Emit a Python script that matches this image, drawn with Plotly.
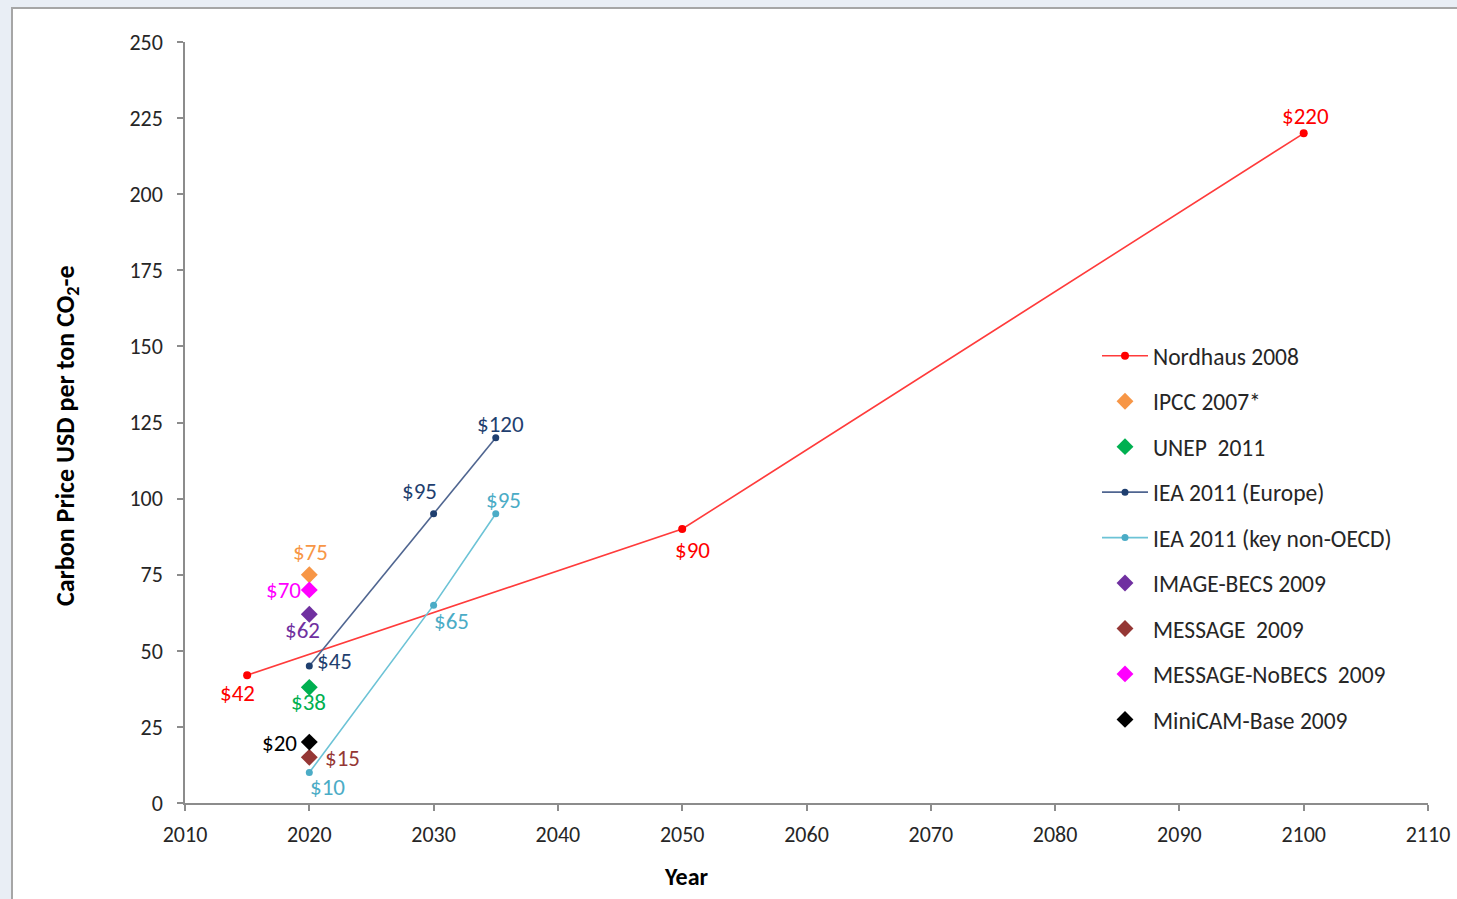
import plotly.graph_objects as go

# Carbon price projections (USD per ton CO2-e)
nordhaus_years = [2015, 2050, 2100]
nordhaus_price = [42, 90, 220]

iea_eu_years = [2020, 2030, 2035]
iea_eu_price = [45, 95, 120]

iea_nonoecd_years = [2020, 2030, 2035]
iea_nonoecd_price = [10, 65, 95]

single_years = [2020]
ipcc_price = [75]
unep_price = [38]
image_becs_price = [62]
message_price = [15]
message_nobecs_price = [70]
minicam_price = [20]

FONT = "Carlito, Calibri, Lato, sans-serif"

# label offsets in pixels (dx right, dy down) for each point's "$" label
series = [
    dict(name="Nordhaus 2008", x=nordhaus_years, y=nordhaus_price, mode="lines+markers",
         color="#ff0000", line="#ff3b3b", symbol="circle", size=8, tcolor="#ff0000",
         offs=[(-10, 18), (10, 21), (2, -17)]),
    dict(name="IPCC 2007*", x=single_years, y=ipcc_price, mode="markers",
         color="#f79646", symbol="diamond", size=13, tcolor="#f79646", offs=[(1, -23)]),
    dict(name="UNEP  2011", x=single_years, y=unep_price, mode="markers",
         color="#00b050", symbol="diamond", size=13, tcolor="#00b050", offs=[(-1, 15)]),
    dict(name="IEA 2011 (Europe)", x=iea_eu_years, y=iea_eu_price, mode="lines+markers",
         color="#1f3f6f", line="#4f6590", symbol="circle", size=7, tcolor="#1f3f6f",
         offs=[(25, -5), (-14, -23), (5, -14)]),
    dict(name="IEA 2011 (key non-OECD)", x=iea_nonoecd_years, y=iea_nonoecd_price, mode="lines+markers",
         color="#4bacc6", line="#6cc3d6", symbol="circle", size=7, tcolor="#4bacc6",
         offs=[(18, 14), (18, 16), (8, -14)]),
    dict(name="IMAGE-BECS 2009", x=single_years, y=image_becs_price, mode="markers",
         color="#7030a0", symbol="diamond", size=13, tcolor="#7030a0", offs=[(-7, 16)]),
    dict(name="MESSAGE  2009", x=single_years, y=message_price, mode="markers",
         color="#953735", symbol="diamond", size=13, tcolor="#953735", offs=[(33, 1)]),
    dict(name="MESSAGE-NoBECS  2009", x=single_years, y=message_nobecs_price, mode="markers",
         color="#ff00ff", symbol="diamond", size=13, tcolor="#ff00ff", offs=[(-26, 0)]),
    dict(name="MiniCAM-Base 2009", x=single_years, y=minicam_price, mode="markers",
         color="#000000", symbol="diamond", size=13, tcolor="#000000", offs=[(-30, 1)]),
]

L, R, T, B = 185, 29, 42, 96
W, H = 1457, 899
pw, ph = W - L - R, H - T - B


def px_x(p):
    return (p - L) / pw


def px_y(p):
    return 1 - (p - T) / ph


fig = go.Figure()
annotations = []
for i, s in enumerate(series):
    tr = dict(
        x=s["x"], y=s["y"], name=s["name"], mode=s["mode"],
        legendgroup=f"g{i}",
        marker=dict(color=s["color"], symbol=s["symbol"], size=s["size"]),
        hoverinfo="x+y+name",
    )
    if "line" in s:
        tr["line"] = dict(color=s["line"], width=1.6)
    fig.add_trace(go.Scatter(**tr))
    for xv, yv, (dx, dy) in zip(s["x"], s["y"], s["offs"]):
        annotations.append(dict(
            x=xv, y=yv, xref="x", yref="y", text=f"${yv}", showarrow=False,
            xshift=dx, yshift=-dy,
            font=dict(family=FONT, size=23, color=s["tcolor"]),
        ))

# axis titles
annotations.append(dict(
    x=px_x(686), y=px_y(876), xref="paper", yref="paper", text="<b>Year</b>",
    showarrow=False, xanchor="center", yanchor="middle",
    font=dict(family=FONT, size=24, color="#000"),
))
annotations.append(dict(
    x=px_x(67), y=px_y(436), xref="paper", yref="paper",
    text="<b>Carbon Price USD per ton CO<sub>2</sub>-e</b>", textangle=-90,
    showarrow=False, xanchor="center", yanchor="middle",
    font=dict(family=FONT, size=26, color="#000"),
))

# chart frame
shapes = [dict(
    type="rect", xref="paper", yref="paper", layer="below",
    x0=px_x(12), x1=px_x(1480), y0=px_y(920), y1=px_y(8),
    line=dict(color="#a6a6a6", width=2), fillcolor="white",
)]

axis_common = dict(
    showgrid=False, zeroline=False, showline=True, linecolor="#8c8c8c", linewidth=1.5,
    ticks="outside", ticklen=6, tickcolor="#8c8c8c", tickwidth=1.5, automargin=False,
    tickfont=dict(family=FONT, size=22, color="#262626"),
)

fig.update_layout(
    width=W, height=H,
    margin=dict(l=L, r=R, t=T, b=B, pad=0, autoexpand=False),
    paper_bgcolor="#e9eef5", plot_bgcolor="white",
    font=dict(family=FONT),
    shapes=shapes,
    annotations=annotations,
    showlegend=True,
    legend=dict(
        x=px_x(1097), y=px_y(334), xanchor="left", yanchor="top",
        bgcolor="rgba(0,0,0,0)", traceorder="grouped", tracegroupgap=11.9,
        itemwidth=46,
        font=dict(family=FONT, size=23.5, color="#262626"),
    ),
    xaxis=dict(range=[2010, 2110], dtick=10, tick0=2010, ticklabelstandoff=5, **axis_common),
    yaxis=dict(range=[0, 250], dtick=25, tick0=0, ticklabelstandoff=10, **axis_common),
)

fig.write_html("out.html")
